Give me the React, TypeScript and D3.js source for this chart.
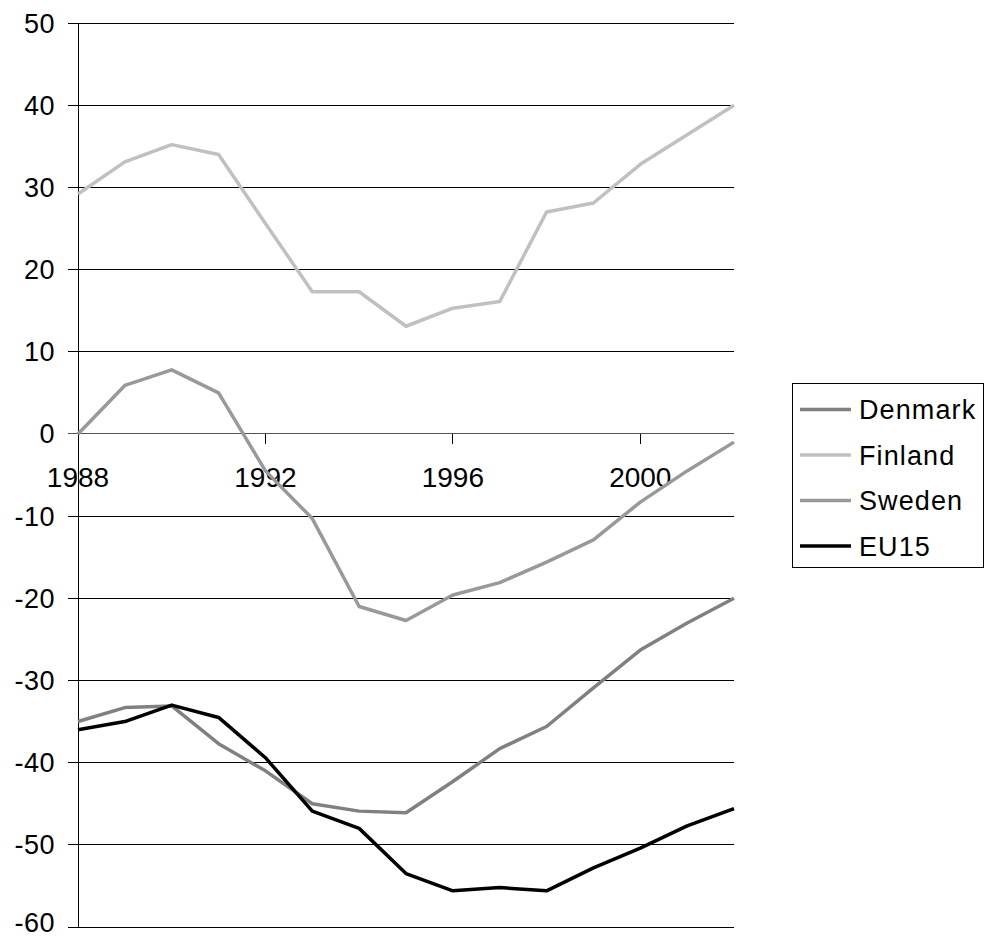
import React from "react";
import * as d3 from "d3";

const years = [1988, 1989, 1990, 1991, 1992, 1993, 1994, 1995, 1996, 1997, 1998, 1999, 2000, 2001, 2002];
const denmark = [-35.0, -33.3, -33.1, -37.7, -41.0, -45.0, -45.9, -46.1, -42.3, -38.3, -35.6, -30.9, -26.3, -23.0, -20.0];
const finland = [29.2, 33.1, 35.2, 34.0, 25.6, 17.3, 17.3, 13.1, 15.3, 16.1, 27.0, 28.1, 32.8, 36.4, 40.0];
const sweden = [0.0, 5.9, 7.8, 5.0, -4.5, -10.3, -21.0, -22.7, -19.6, -18.1, -15.6, -12.9, -8.3, -4.5, -1.0];
const eu15 = [-36.0, -35.0, -33.0, -34.5, -39.4, -45.9, -48.0, -53.5, -55.6, -55.2, -55.6, -52.8, -50.4, -47.7, -45.6];
const yTicks = [50, 40, 30, 20, 10, 0, -10, -20, -30, -40, -50, -60];
const xLabelYears = [1988, 1992, 1996, 2000];

const seriesNames = ["Denmark", "Finland", "Sweden", "EU15"];
const seriesData = [denmark, finland, sweden, eu15];
const seriesColors = ["#808080", "#c0c0c0", "#999999", "#000000"];

export default function App() {
  const left = 78, right = 734, top = 23, bottom = 927;
  const x = d3.scalePoint<number>().domain(years).range([left, right]);
  const y = d3.scaleLinear().domain([-60, 50]).range([bottom, top]);
  const line = d3.line<number>().x((_, i) => x(years[i]) as number).y((d) => y(d));
  const font = "'Liberation Sans', Arial, sans-serif";

  const legendX = 792, legendY = 383, legendW = 191, legendH = 184;
  const legendRows = [409.5, 455, 500.5, 546];

  return (
    <svg width={984} height={941} style={{ position: "absolute", left: 0, top: 0, background: "#fff" }}>
      <rect x={0} y={0} width={984} height={941} fill="#fff" />
      {yTicks.map((t) => (
        <g key={t}>
          <line x1={68} x2={right} y1={y(t)} y2={y(t)} stroke={t === 0 ? "#555" : "#000"} strokeWidth={1} shapeRendering="crispEdges" />
          <text x={55} y={Math.min(y(t) + 9.5, 932)} textAnchor="end" fontFamily={font} fontSize={27} letterSpacing={0.5}>{t}</text>
        </g>
      ))}
      <line x1={left} x2={left} y1={top} y2={bottom} stroke="#000" strokeWidth={1} shapeRendering="crispEdges" />
      {xLabelYears.map((yr) => (
        <g key={yr}>
          <line x1={x(yr)} x2={x(yr)} y1={y(0)} y2={y(0) + 10} stroke="#000" strokeWidth={1} shapeRendering="crispEdges" />
          <text x={x(yr)} y={487} textAnchor="middle" fontFamily={font} fontSize={28}>{yr}</text>
        </g>
      ))}
      {seriesData.map((d, i) => (
        <path key={seriesNames[i]} d={line(d) || ""} fill="none" stroke={seriesColors[i]} strokeWidth={3.5} strokeLinejoin="round" />
      ))}
      <rect x={legendX + 0.5} y={legendY + 0.5} width={legendW} height={legendH} fill="#fff" stroke="#000" strokeWidth={1} />
      {seriesNames.map((n, i) => (
        <g key={n}>
          <line x1={800} x2={851} y1={legendRows[i]} y2={legendRows[i]} stroke={seriesColors[i]} strokeWidth={3.5} />
          <text x={859} y={legendRows[i]} dy="0.36em" fontFamily={font} fontSize={27} letterSpacing={1.1}>{n}</text>
        </g>
      ))}
    </svg>
  );
}
